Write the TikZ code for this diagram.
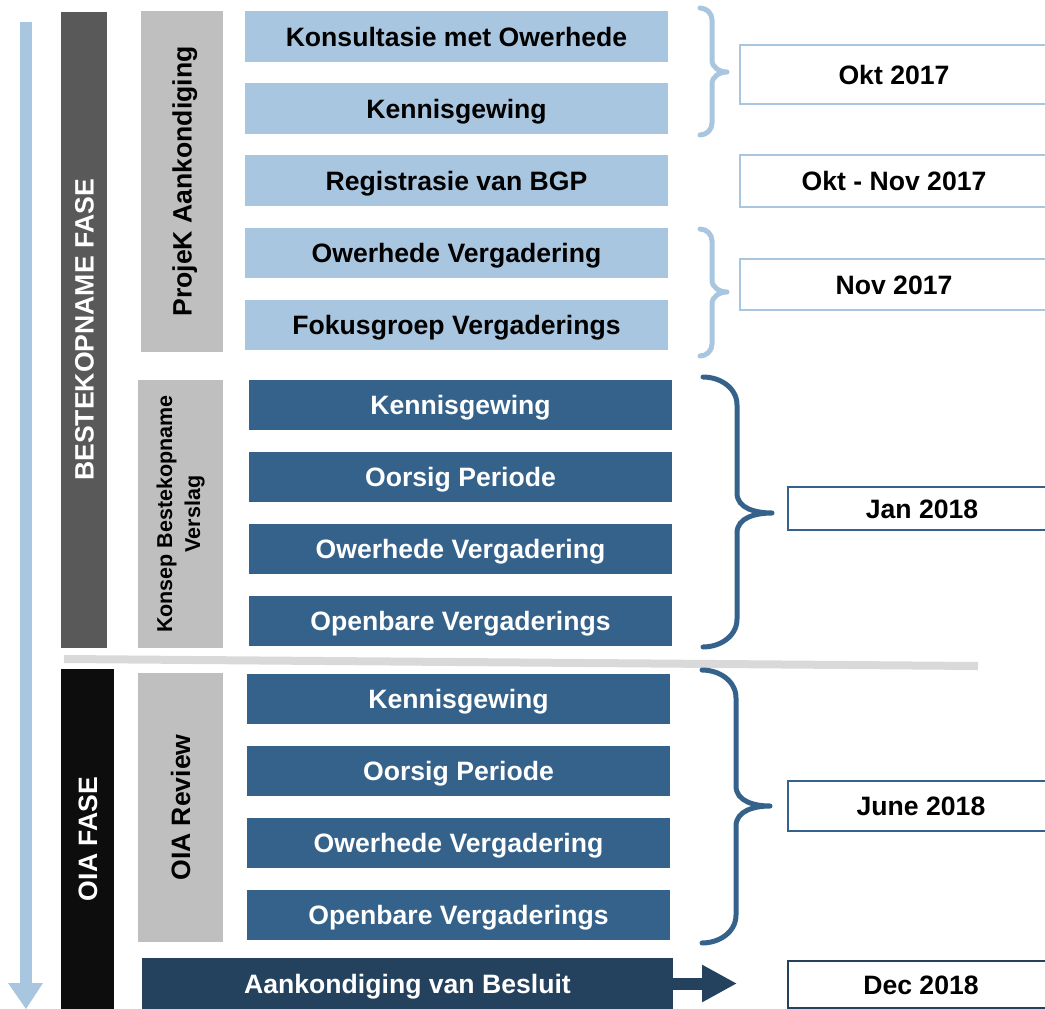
\documentclass[tikz,border=0pt]{standalone}
\usepackage{fontspec}
\setmainfont{Liberation Sans}
\usetikzlibrary{arrows.meta}
\definecolor{lblue}{HTML}{A9C6E0}
\definecolor{dblue}{HTML}{35628A}
\definecolor{ddblue}{HTML}{24425E}
\definecolor{gbox}{HTML}{BFBFBF}
\definecolor{phasegray}{HTML}{595959}
\definecolor{phaseblack}{HTML}{0D0D0D}
\definecolor{sepgray}{HTML}{D9D9D9}
\tikzset{
  txt/.style={font=\fontsize{26.6}{30}\selectfont\bfseries, inner sep=0pt, text height=19pt, text depth=0pt},
  lbox/.style={txt, fill=lblue, text=black, minimum width=423pt, minimum height=51pt},
  dbox/.style={txt, fill=dblue, text=white, minimum width=423pt, minimum height=50pt},
  graybox/.style={txt, fill=gbox, text=black, rotate=90},
  phasebox/.style={txt, text=white, rotate=90},
  datebox/.style={txt, draw, line width=2.5pt, fill=white, text=black},
  lbrace/.style={draw=lblue, line width=5pt, line cap=round},
  dbrace/.style={draw=dblue, line width=5pt, line cap=round},
}
\begin{document}
\begin{tikzpicture}[x=1pt,y=-1pt]
\useasboundingbox (0,0) rectangle (1045,1009);
\clip (0,0) rectangle (1045,1009);

% timeline arrow
\fill[lblue] (20,22) rectangle (32,984);
\fill[lblue] (8,983) -- (43,983) -- (26,1009) -- cycle;

% phases
\node[phasebox, fill=phasegray, minimum width=636pt, minimum height=46pt] (fase1) at (84,330) {BESTEKOPNAME FASE};
\node[phasebox, fill=phaseblack, minimum width=340pt, minimum height=53pt] (fase2) at (87.5,839) {OIA FASE};

% separator
\draw[sepgray, line width=8pt] (64,659) -- (978,666);

% group boxes
\node[graybox, minimum width=341pt, minimum height=82pt] (g1) at (182,181.5) {ProjeK Aankondiging};
\node[graybox, minimum width=268pt, minimum height=85pt, align=center, text height=, text depth=, font=\fontsize{21.5}{28}\selectfont\bfseries] (g2) at (180.5,514) {Konsep Bestekopname\\Verslag};
\node[graybox, minimum width=269pt, minimum height=85pt] (g3) at (180.5,807.5) {OIA Review};

% light boxes
\node[lbox] (a1) at (456.5,36.5) {Konsultasie met Owerhede};
\node[lbox] (a2) at (456.5,108.5) {Kennisgewing};
\node[lbox] (a3) at (456.5,180.5) {Registrasie van BGP};
\node[lbox, minimum height=50pt] (a4) at (456.5,253) {Owerhede Vergadering};
\node[lbox, minimum height=50pt] (a5) at (456.5,325) {Fokusgroep Vergaderings};

% dark boxes (Konsep)
\node[dbox] (b1) at (460.5,405) {Kennisgewing};
\node[dbox] (b2) at (460.5,477) {Oorsig Periode};
\node[dbox] (b3) at (460.5,549) {Owerhede Vergadering};
\node[dbox] (b4) at (460.5,621) {Openbare Vergaderings};

% dark boxes (OIA)
\node[dbox] (c1) at (458.5,699) {Kennisgewing};
\node[dbox] (c2) at (458.5,771) {Oorsig Periode};
\node[dbox] (c3) at (458.5,843) {Owerhede Vergadering};
\node[dbox] (c4) at (458.5,915) {Openbare Vergaderings};

% decision
\node[txt, fill=ddblue, text=white, minimum width=531pt, minimum height=51pt] (besluit) at (407.5,983.5) {Aankondiging van Besluit};

% date boxes
\node[datebox, draw=lblue, minimum width=308pt, minimum height=59pt] (d1) at (894,74.5) {Okt 2017};
\node[datebox, draw=lblue, minimum width=308pt, minimum height=52pt] (d2) at (894,181) {Okt - Nov 2017};
\node[datebox, draw=lblue, minimum width=308pt, minimum height=51pt] (d3) at (894,284.5) {Nov 2017};
\node[datebox, draw=dblue, minimum width=268pt, minimum height=43pt] (d4) at (922,508.5) {Jan 2018};
\node[datebox, draw=dblue, minimum width=266pt, minimum height=50pt] (d5) at (921,806) {June 2018};
\node[datebox, draw=ddblue, minimum width=266pt, minimum height=47pt] (d6) at (921,984.5) {Dec 2018};

% braces
\coordinate (t1) at (727,72);
\coordinate (t2) at (727,292);
\coordinate (t3) at (772,513);
\coordinate (t4) at (770,806);
\draw[lbrace] (700,8) to[out=0,in=90] (712,20) -- (712,60) to[out=-90,in=180] (t1)
  (t1) to[out=180,in=90] (712,84) -- (712,123) to[out=-90,in=0] (700,135);
\draw[lbrace] (700,229) to[out=0,in=90] (712,241) -- (712,280) to[out=-90,in=180] (t2)
  (t2) to[out=180,in=90] (712,304) -- (712,344) to[out=-90,in=0] (700,356);
\draw[dbrace] (703,377) to[out=0,in=90] (737,405) -- (737,493) to[out=-90,in=180] (t3)
  (t3) to[out=180,in=90] (737,533) -- (737,619) to[out=-90,in=0] (703,647);
\draw[dbrace] (702,670) to[out=0,in=90] (736,698) -- (736,786) to[out=-90,in=180] (t4)
  (t4) to[out=180,in=90] (736,826) -- (736,915) to[out=-90,in=0] (702,943);

% decision arrow
\coordinate (arrend) at (737,983.5);
\draw[ddblue, line width=12pt, -{Triangle[length=35pt,width=35pt]}] (besluit.east) -- (arrend);
\end{tikzpicture}
\end{document}
